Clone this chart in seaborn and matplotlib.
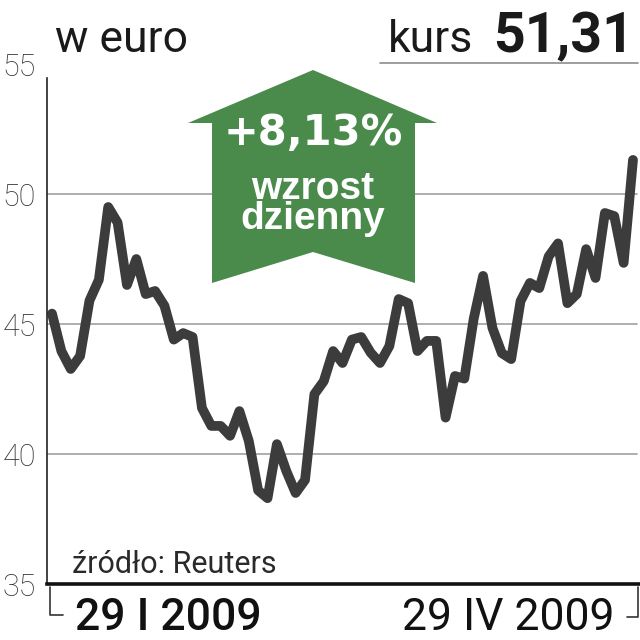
import numpy as np
import pandas as pd
import matplotlib
matplotlib.use("Agg")
import matplotlib.pyplot as plt
import seaborn as sns
from matplotlib.patches import Polygon
from matplotlib.lines import Line2D

# kurs akcji w euro, sesje od 29 I do 29 IV 2009
kurs = [45.4, 43.96, 43.27, 43.77, 45.9, 46.7, 49.5, 48.9, 46.5, 47.5,
        46.15, 46.27, 45.7, 44.4, 44.65, 44.5, 41.77, 41.08, 41.08, 40.7,
        41.65, 40.5, 38.6, 38.3, 40.38, 39.35, 38.5, 39.0, 42.3, 42.8,
        43.96, 43.5, 44.4, 44.5, 43.9, 43.5, 44.15, 45.96, 45.8, 43.96,
        44.35, 44.35, 41.4, 43.0, 42.9, 45.2, 46.85, 44.85, 43.88, 43.65,
        45.88, 46.58, 46.38, 47.6, 48.1, 45.8, 46.15, 47.88, 46.77, 49.27,
        49.15, 47.35, 51.31]
y_ticks = [35, 40, 45, 50, 55]
grid_levels = [40, 45, 50]
start_label = "29 I 2009"
end_label = "29 IV 2009"
last_value = "51,31"
change = "+8,13%"

sns.set_theme(style="white")
plt.rcParams['font.family'] = ['Roboto', 'DejaVu Sans']

W = H = 640
def fx(px):
    return px / W
def fy(py):
    return 1 - py / H

fig = plt.figure(figsize=(6.4, 6.4), dpi=100)
ax = fig.add_axes([fx(47), fy(584), fx(640) - fx(47), fy(64) - fy(584)])

df = pd.DataFrame({'dzien': np.arange(len(kurs)), 'kurs': kurs})
sns.lineplot(data=df, x='dzien', y='kurs', ax=ax, color='#3c3c3c',
             linewidth=7, solid_capstyle='round', solid_joinstyle='round')

step = (633 - 52) / (len(kurs) - 1)
ax.set_xlim(-5 / step, len(kurs) - 1 + 7 / step)
ax.set_ylim(35, 55)
for v in grid_levels:
    ax.axhline(v, color='#a8a8a8', lw=1.3, zorder=0, xmax=(637 - 47) / 593)

for s in ['top', 'right']:
    ax.spines[s].set_visible(False)
ax.spines['left'].set_color('#222222')
ax.spines['left'].set_linewidth(1.2)
ax.spines['left'].set_bounds(35, 55 - 14 / 26)
ax.spines['bottom'].set_color('#111111')
ax.spines['bottom'].set_linewidth(2.6)

ax.set_xticks([])
ax.set_yticks(y_ticks)
ax.set_yticklabels([str(t) for t in y_ticks], fontsize=22, color='#333333',
                   fontweight='light')
ax.tick_params(axis='y', length=0, pad=8)
ax.set_xlabel('')
ax.set_ylabel('')

# naglowek
fig.text(fx(55), fy(52), "w euro", fontsize=32, color='#1a1a1a', va='baseline')
fig.text(fx(388), fy(52), "kurs", fontsize=32, color='#1a1a1a', va='baseline')
fig.text(fx(634), fy(52), last_value, fontsize=40, fontweight='bold',
         color='#1a1a1a', ha='right', va='baseline')
fig.add_artist(Line2D([fx(380), fx(638)], [fy(63), fy(63)],
                      transform=fig.transFigure, color='#8c8c8c', lw=1.2))

# strzalka
arrow_px = [(313, 70), (437, 123), (415, 123), (415, 283), (313, 252),
            (212, 283), (212, 123), (188, 123)]
fig.add_artist(Polygon([(fx(a), fy(b)) for a, b in arrow_px], closed=True,
                       transform=fig.transFigure, facecolor='#4a8b4c',
                       edgecolor='none', zorder=3))
fig.text(fx(313), fy(145), change, fontsize=30, fontweight='bold',
         color='white', ha='center', va='baseline', zorder=4,
         family=['DejaVu Sans'])
fig.text(fx(313), fy(229), "wzrost\ndzienny", fontsize=28, fontweight='bold',
         color='white', ha='center', va='baseline', multialignment='center',
         linespacing=0.8, zorder=4, family=['Liberation Sans', 'DejaVu Sans'])

# zrodlo i daty
fig.text(fx(72), fy(573), "źródło: Reuters", fontsize=22, color='#2a2a2a',
         va='baseline')
fig.text(fx(75), fy(630), start_label, fontsize=32, fontweight='medium',
         color='#111111', va='baseline')
fig.text(fx(615), fy(630), end_label, fontsize=32, color='#111111',
         ha='right', va='baseline')

for xs, ys in [([50, 50, 63], [587, 615, 615]),
               ([638, 638, 627], [587, 617, 617])]:
    fig.add_artist(Line2D([fx(v) for v in xs], [fy(v) for v in ys],
                          transform=fig.transFigure, color='#333333', lw=1.2))

fig.savefig("out.png", dpi=100)
